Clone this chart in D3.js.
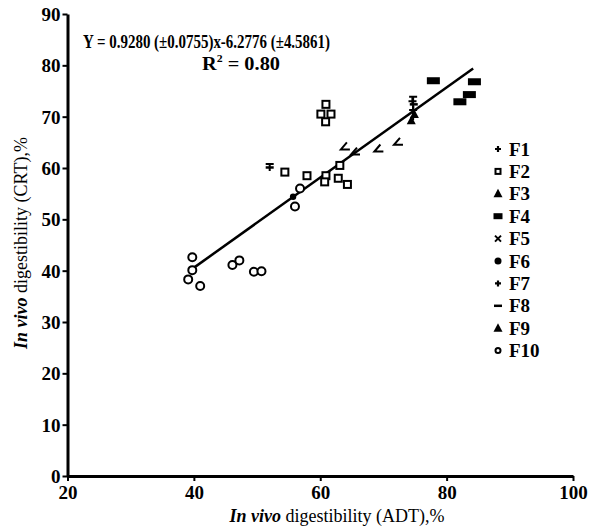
<!DOCTYPE html>
<html>
<head>
<meta charset="utf-8">
<script src="https://cdn.jsdelivr.net/npm/d3@7"></script>
<style>
  body { margin: 0; background: #fff; }
  text { font-family: "Liberation Serif", "Times New Roman", serif; fill: #000; }
</style>
</head>
<body>
<div id="chart"></div>
<script>
// series values, [ADT, CRT]
var seriesNames = ["F1", "F2", "F3", "F4", "F5", "F6", "F7", "F8", "F9", "F10"];
var f1 = [[74.6, 73.0]];
var f2 = [[60.9, 72.4], [60.1, 70.5], [61.7, 70.5], [60.85, 69.0], [54.4, 59.2], [57.9, 58.5],
          [60.9, 58.5], [63.1, 60.5], [60.7, 57.3], [62.85, 58.0], [64.3, 56.8]];
var f3 = [[74.9, 70.4]];
var f4 = [[77.9, 77.0], [84.4, 76.8], [83.6, 74.3], [82.1, 72.9]];
var f5 = [[63.9, 64.2], [65.5, 63.2], [69.2, 63.8], [72.3, 65.1]];
var f6 = [[55.7, 54.4]];
var f7 = [[74.7, 71.3]];
var f8 = [[52.0, 60.1], [74.8, 72.4]];
var f9 = [[74.4, 69.2]];
var f10 = [[39.1, 38.3], [39.75, 42.6], [39.75, 40.1], [41.0, 37.0], [46.1, 41.1], [47.2, 42.0],
           [49.5, 39.8], [50.7, 39.9], [56.0, 52.5], [56.8, 56.0]];
// error bars [x, low, high]
var errorBars = [[74.7, 69.3, 73.9], [52.0, 59.4, 60.8]];
var fitLine = [[39.8, 40.4], [84.2, 79.4]];
var xTicks = [20, 40, 60, 80, 100];
var yTicks = [0, 10, 20, 30, 40, 50, 60, 70, 80, 90];

var allSeries = [f1, f2, f3, f4, f5, f6, f7, f8, f9, f10];

var width = 592, height = 527;
var svg = d3.select("#chart").append("svg")
  .attr("width", width)
  .attr("height", height);

var x = d3.scaleLinear().domain([20, 100]).range([67.5, 573]);
var y = d3.scaleLinear().domain([0, 90]).range([476, 14]);

// marker drawing, centred at 0,0
function drawMarker(g, kind, legend) {
  if (kind === "F1" || kind === "F7") {
    var s = legend ? 3 : 4;
    g.append("path").attr("d", "M" + (-s) + ",0H" + s + "M0," + (-s) + "V" + s)
      .attr("stroke", "#000").attr("stroke-width", 2.2).attr("fill", "none");
  } else if (kind === "F2") {
    var q = legend ? 5 : 7;
    g.append("rect").attr("x", -q / 2).attr("y", -q / 2).attr("width", q).attr("height", q)
      .attr("fill", "#fff").attr("stroke", "#000").attr("stroke-width", 2);
  } else if (kind === "F3" || kind === "F9") {
    g.append("path").attr("d", "M0,-5L4.5,3.5L-4.5,3.5Z").attr("fill", "#000");
  } else if (kind === "F4") {
    var w = legend ? 9 : 13, h = legend ? 6 : 7;
    g.append("rect").attr("x", -w / 2).attr("y", -h / 2).attr("width", w).attr("height", h).attr("fill", "#000");
  } else if (kind === "F5") {
    if (legend) {
      g.append("path").attr("d", "M-3,-3L3,3M3,-3L-3,3")
        .attr("stroke", "#000").attr("stroke-width", 2).attr("fill", "none");
    } else {
      g.append("path").attr("d", "M2,-4L-4,3H5")
        .attr("stroke", "#000").attr("stroke-width", 2).attr("fill", "none");
    }
  } else if (kind === "F6") {
    g.append("circle").attr("r", legend ? 3.5 : 3.2).attr("fill", "#000");
  } else if (kind === "F8") {
    g.append("path").attr("d", "M-4,0H4")
      .attr("stroke", "#000").attr("stroke-width", 2.5).attr("fill", "none");
  } else if (kind === "F10") {
    g.append("circle").attr("r", legend ? 2.5 : 4).attr("fill", "#fff")
      .attr("stroke", "#000").attr("stroke-width", 2);
  }
}

// axes
var yAxis = d3.axisLeft(y).tickValues(yTicks).tickSize(5).tickPadding(2).tickSizeOuter(0);
var xAxis = d3.axisBottom(x).tickValues(xTicks).tickSize(5).tickPadding(3).tickSizeOuter(0);

var gy = svg.append("g").attr("transform", "translate(67.5,0)").call(yAxis);
var gx = svg.append("g").attr("transform", "translate(0,476)").call(xAxis);

[gx, gy].forEach(function (g) {
  g.select(".domain").attr("stroke", "#000").attr("stroke-width", 3);
  g.selectAll(".tick line").attr("stroke", "#000").attr("stroke-width", 2);
  g.selectAll(".tick text")
    .style("font-family", "'Liberation Serif', serif")
    .style("font-weight", "bold")
    .style("font-size", "19px")
    .attr("fill", "#000");
});
gy.selectAll(".tick text").attr("dy", "0.34em");
gx.selectAll(".tick text").attr("dy", "0.78em");

// axis titles
var xt = svg.append("text")
  .attr("x", 337).attr("y", 522)
  .attr("text-anchor", "middle")
  .style("font-size", "18px");
xt.append("tspan").style("font-style", "italic").style("font-weight", "bold").text("In vivo");
xt.append("tspan").text(" digestibility (ADT),%");

var yt = svg.append("text")
  .attr("transform", "translate(27,243) rotate(-90)")
  .attr("text-anchor", "middle")
  .style("font-size", "18px");
yt.append("tspan").style("font-style", "italic").style("font-weight", "bold").text("In vivo");
yt.append("tspan").text(" digestibility (CRT),%");

// regression line
svg.append("path")
  .datum(fitLine)
  .attr("d", d3.line().x(function (d) { return x(d[0]); }).y(function (d) { return y(d[1]); }))
  .attr("stroke", "#000").attr("stroke-width", 2.5).attr("fill", "none");

// error bars
errorBars.forEach(function (e) {
  svg.append("path")
    .attr("d", "M" + x(e[0]) + "," + y(e[1]) + "V" + y(e[2]) +
      "M" + (x(e[0]) - 4) + "," + y(e[2]) + "H" + (x(e[0]) + 4))
    .attr("stroke", "#000").attr("stroke-width", 2).attr("fill", "none");
});

// points
allSeries.forEach(function (pts, i) {
  pts.forEach(function (p) {
    var g = svg.append("g").attr("transform", "translate(" + x(p[0]) + "," + y(p[1]) + ")");
    drawMarker(g, seriesNames[i], false);
  });
});

// equation text
svg.append("text")
  .attr("x", 83).attr("y", 48)
  .style("font-size", "19px").style("font-weight", "bold")
  .attr("textLength", 247).attr("lengthAdjust", "spacingAndGlyphs")
  .text("Y = 0.9280 (\u00b10.0755)x-6.2776 (\u00b14.5861)");
var r2 = svg.append("text")
  .attr("x", 202).attr("y", 70)
  .style("font-size", "19px").style("font-weight", "bold")
  .attr("textLength", 78).attr("lengthAdjust", "spacingAndGlyphs");
r2.append("tspan").text("R");
r2.append("tspan").attr("dy", -8).style("font-size", "11px").text("2");
r2.append("tspan").attr("dy", 8).text(" = 0.80");

// legend
seriesNames.forEach(function (name, i) {
  var ly = 149 + i * 22.4;
  var g = svg.append("g").attr("transform", "translate(498," + ly + ")");
  drawMarker(g, name, true);
  svg.append("text")
    .attr("x", 509).attr("y", ly + 6.5)
    .style("font-size", "19px").style("font-weight", "bold")
    .text(name);
});
</script>
</body>
</html>
